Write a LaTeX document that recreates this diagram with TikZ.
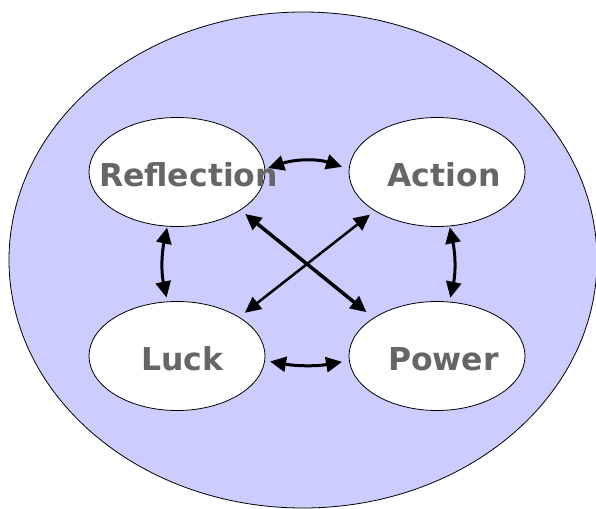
\documentclass[tikz,border=0pt]{standalone}
\usepackage{fontspec}
\setmainfont{DejaVu Sans}
\usetikzlibrary{arrows.meta,shapes}
\definecolor{bgblue}{RGB}{204,204,255}
\definecolor{wordgray}{RGB}{102,102,102}

\begin{document}
\begin{tikzpicture}[x=1pt,y=1pt,
  bubble/.style={ellipse,draw,fill=white,line width=0.8pt,minimum width=176pt,minimum height=109pt,inner sep=0pt},
  word/.style={anchor=base,text=wordgray,font=\bfseries\fontsize{31.5}{31.5}\selectfont,inner sep=0pt},
  link/.style={{Triangle[length=16pt,width=15pt]}-{Triangle[length=16pt,width=15pt]},line width=3pt}]
\useasboundingbox (0,0) rectangle (596,-508);
\draw[fill=bgblue,line width=0.8pt] (303,-260) ellipse (294 and 248);
\node[bubble] (refl) at (177,-172) {};
\node[bubble] (act) at (437,-172) {};
\node[bubble] (luck) at (177,-356) {};
\node[bubble] (pow) at (437,-356) {};
\node[word] (reflw) at (188.5,-186) {Reflection};
\node[word] (actw) at (444,-186) {Action};
\node[word] (luckw) at (182.5,-370) {Luck};
\node[word] (poww) at (443.5,-370) {Power};
\draw[link,shorten <=3pt,shorten >=7pt] (refl.2) to[bend left=18] (act.178);
\draw[link,shorten <=5pt,shorten >=7pt] (luck.-3) to[bend right=10] (pow.183);
\draw[link,shorten <=1pt,shorten >=4pt] (refl.260) to[bend right=12] (luck.100);
\draw[link,shorten <=1pt,shorten >=4pt] (act.283) to[bend left=12] (pow.77);
\draw[link,line width=3.5pt,shorten <=6pt,shorten >=9pt] (refl.-31) -- (pow.149);
\draw[link,line width=2.5pt,shorten <=7pt,shorten >=6pt] (luck.32) -- (act.212);
\end{tikzpicture}
\end{document}
